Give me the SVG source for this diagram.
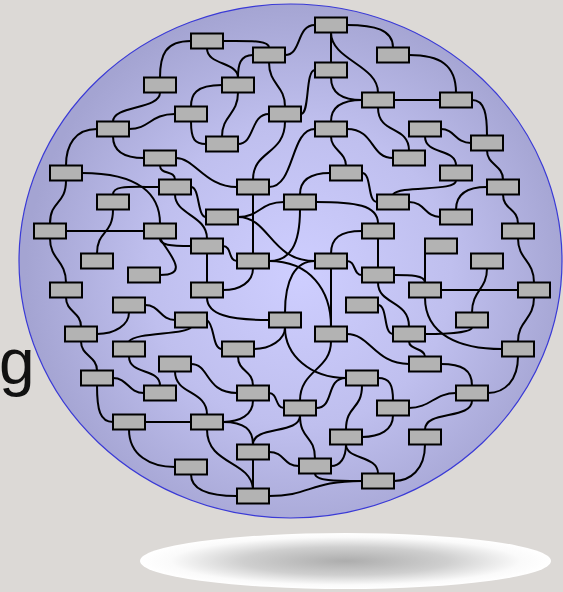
<svg xmlns="http://www.w3.org/2000/svg" width="563" height="592" viewBox="0 0 563 592">
<defs>
<radialGradient id="bg" cx="300" cy="275" r="275" gradientUnits="userSpaceOnUse">
<stop offset="0" stop-color="#ceceff"/><stop offset="0.55" stop-color="#bfbfee"/><stop offset="1" stop-color="#a4a4d2"/>
</radialGradient>
<radialGradient id="sh" cx="0.5" cy="0.5" r="0.5">
<stop offset="0" stop-color="#adadad"/><stop offset="0.5" stop-color="#cfcfcf"/><stop offset="0.85" stop-color="#fafafa"/><stop offset="1" stop-color="#ffffff"/>
</radialGradient>
<style>
.n rect{fill:#b3b3b3;stroke:#000;stroke-width:2}
#edges path{fill:none;stroke:#000;stroke-width:2}
</style>
</defs>
<rect x="0" y="0" width="563" height="592" fill="#dcd9d6"/>
<ellipse cx="345.5" cy="561" rx="205.5" ry="28" fill="url(#sh)"/>
<ellipse cx="290.5" cy="261" rx="271.5" ry="257" fill="url(#bg)" stroke="#3a3ad6" stroke-width="1.2"/>
<text x="-1" y="384" font-family="Liberation Sans, Arial, sans-serif" font-size="64" fill="#111">g</text>
<g id="edges">
<path d="M331,32.5 L331,62.5"/>
<path d="M331,32.5 C331,60 378,65 378,92.5"/>
<path d="M347,25 C375,25 393,30 393,47.5"/>
<path d="M285,55 C302,55 296,25 315,25"/>
<path d="M223,41 C250,41 269,40 269,47.5"/>
<path d="M191,41 C165,41 160,55 160,77.5"/>
<path d="M207,48.5 C207,65 238,62 238,77.5"/>
<path d="M253,55 C240,55 238,65 238,77.5"/>
<path d="M269,62.5 C269,85 285,85 285,106.5"/>
<path d="M222,85 C195,85 191,95 191,106.5"/>
<path d="M238,92.5 C238,115 222,115 222,136.5"/>
<path d="M191,121.5 C191,140 195,144 206,144"/>
<path d="M269,114 C250,114 255,144 238,144"/>
<path d="M301,114 C310,114 305,70 315,70"/>
<path d="M285,121.5 C285,155 253,150 253,179.5"/>
<path d="M315,129 C290,129 295,187 269,187"/>
<path d="M331,77.5 C331,95 345,100 362,100"/>
<path d="M362,100 C345,100 331,105 331,121.5"/>
<path d="M394,100 L440,100"/>
<path d="M378,107.5 C378,135 409,125 409,150.5"/>
<path d="M409,55 C440,55 456,65 456,92.5"/>
<path d="M472,100 C485,100 487,115 487,135.5"/>
<path d="M441,129 C455,129 455,143 471,143"/>
<path d="M425,136.5 C425,155 456,148 456,165.5"/>
<path d="M487,150.5 C487,165 503,165 503,179.5"/>
<path d="M456,180.5 C456,192 400,185 393,194.5"/>
<path d="M487,187 C465,187 456,195 456,209.5"/>
<path d="M503,194.5 C503,210 518,208 518,223.5"/>
<path d="M347,129 C375,129 370,158 393,158"/>
<path d="M331,136.5 C331,150 346,152 346,165.5"/>
<path d="M330,173 C310,173 300,180 300,194.5"/>
<path d="M362,173 C372,173 367,202 377,202"/>
<path d="M160,92.5 C160,110 113,105 113,121.5"/>
<path d="M129,129 C150,129 150,114 175,114"/>
<path d="M97,129 C75,129 66,145 66,165.5"/>
<path d="M113,136.5 C113,152 125,158 144,158"/>
<path d="M176,158 C195,158 205,187 237,187"/>
<path d="M160,165.5 C160,175 175,170 175,179.5"/>
<path d="M82,173 C140,173 160,195 160,223.5"/>
<path d="M66,180.5 C66,205 50,200 50,223.5"/>
<path d="M159,187 C130,187 113,185 113,194.5"/>
<path d="M191,187 C200,187 197,217 206,217"/>
<path d="M175,194.5 C175,215 207,215 207,238.5"/>
<path d="M66,231 L144,231"/>
<path d="M113,209.5 C113,235 97,230 97,253.5"/>
<path d="M160,238.5 C160,245 170,246 191,246"/>
<path d="M160,238.5 C170,255 190,275 160,275"/>
<path d="M50,238.5 C50,260 66,260 66,282.5"/>
<path d="M66,297.5 C66,312 81,312 81,326.5"/>
<path d="M129,312.5 C129,325 115,334 97,334"/>
<path d="M145,305 C160,305 160,320 175,320"/>
<path d="M81,341.5 C81,356 97,356 97,370.5"/>
<path d="M191,327.5 C185,335 135,332 129,341.5"/>
<path d="M129,356.5 C129,375 160,368 160,385.5"/>
<path d="M113,378 C128,378 128,393 144,393"/>
<path d="M97,385.5 C97,410 100,422 113,422"/>
<path d="M145,422 L191,422"/>
<path d="M129,429.5 C129,455 150,467 175,467"/>
<path d="M191,364 C210,364 205,393 237,393"/>
<path d="M175,371.5 C175,395 207,390 207,414.5"/>
<path d="M253,400.5 C253,415 240,422 223,422"/>
<path d="M223,422 C245,422 253,430 253,444.5"/>
<path d="M207,429.5 C207,465 250,460 253,488.5"/>
<path d="M191,474.5 C191,490 210,496 237,496"/>
<path d="M253,459.5 L253,488.5"/>
<path d="M300,415.5 C300,435 253,425 253,444.5"/>
<path d="M269,452 C285,452 283,466 299,466"/>
<path d="M269,393 C278,393 275,408 284,408"/>
<path d="M238,356.5 C238,372 253,370 253,385.5"/>
<path d="M285,327.5 C285,355 310,378 346,378"/>
<path d="M331,341.5 C331,370 300,370 300,400.5"/>
<path d="M207,297.5 C207,315 230,320 269,320"/>
<path d="M315,261 C295,261 285,280 285,312.5"/>
<path d="M331,268.5 L331,326.5"/>
<path d="M269,261 C310,261 331,290 331,326.5"/>
<path d="M347,334 C370,334 375,364 409,364"/>
<path d="M441,364 C462,364 472,370 472,385.5"/>
<path d="M409,341.5 C409,350 425,348 425,356.5"/>
<path d="M518,356.5 C518,380 505,393 488,393"/>
<path d="M456,393 C435,393 430,408 409,408"/>
<path d="M472,400.5 C472,420 425,410 425,429.5"/>
<path d="M425,444.5 C425,470 410,481 394,481"/>
<path d="M378,378 C390,378 393,385 393,400.5"/>
<path d="M393,415.5 C393,430 380,437 362,437"/>
<path d="M362,385.5 C362,410 346,405 346,429.5"/>
<path d="M316,408 C335,408 325,378 346,378"/>
<path d="M346,444.5 C346,458 340,466 331,466"/>
<path d="M346,444.5 C346,460 378,455 378,473.5"/>
<path d="M315,473.5 C315,481 335,481 362,481"/>
<path d="M300,415.5 C300,440 315,435 315,458.5"/>
<path d="M269,496 C310,496 310,481 362,481"/>
<path d="M409,202 C425,202 425,217 440,217"/>
<path d="M378,238.5 L378,267.5"/>
<path d="M518,238.5 C518,260 534,260 534,282.5"/>
<path d="M425,250 L425,282.5"/>
<path d="M394,275 C410,275 425,275 425,282.5"/>
<path d="M441,290 L518,290"/>
<path d="M487,268.5 C487,290 472,290 472,312.5"/>
<path d="M425,297.5 C425,335 460,349 502,349"/>
<path d="M534,297.5 C534,320 518,320 518,341.5"/>
<path d="M472,327.5 C472,332 450,334 425,334"/>
<path d="M378,282.5 C378,305 409,300 409,326.5"/>
<path d="M378,305 C388,305 383,334 393,334"/>
<path d="M238,217 C260,217 260,202 284,202"/>
<path d="M238,217 C270,217 270,261 315,261"/>
<path d="M253,194.5 L253,253.5"/>
<path d="M300,209.5 C300,245 290,261 269,261"/>
<path d="M362,231 C340,231 331,238 331,253.5"/>
<path d="M347,261 C356,261 353,275 362,275"/>
<path d="M223,246 C232,246 228,261 237,261"/>
<path d="M207,253.5 L207,282.5"/>
<path d="M253,268.5 C253,282 240,290 223,290"/>
<path d="M207,320 C215,325 212,349 222,349"/>
<path d="M285,327.5 C285,340 270,349 254,349"/>
<path d="M316,202 C355,202 378,205 378,223.5"/>
</g>
<g id="n1" class="n"><rect x="315" y="17.5" width="32" height="15"/></g>
<g id="n2" class="n"><rect x="191" y="33.5" width="32" height="15"/></g>
<g id="n3" class="n"><rect x="253" y="47.5" width="32" height="15"/></g>
<g id="n4" class="n"><rect x="377" y="47.5" width="32" height="15"/></g>
<g id="n5" class="n"><rect x="315" y="62.5" width="32" height="15"/></g>
<g id="n6" class="n"><rect x="144" y="77.5" width="32" height="15"/></g>
<g id="n7" class="n"><rect x="222" y="77.5" width="32" height="15"/></g>
<g id="n8" class="n"><rect x="362" y="92.5" width="32" height="15"/></g>
<g id="n9" class="n"><rect x="440" y="92.5" width="32" height="15"/></g>
<g id="n10" class="n"><rect x="97" y="121.5" width="32" height="15"/></g>
<g id="n11" class="n"><rect x="175" y="106.5" width="32" height="15"/></g>
<g id="n12" class="n"><rect x="269" y="106.5" width="32" height="15"/></g>
<g id="n13" class="n"><rect x="315" y="121.5" width="32" height="15"/></g>
<g id="n14" class="n"><rect x="409" y="121.5" width="32" height="15"/></g>
<g id="n15" class="n"><rect x="206" y="136.5" width="32" height="15"/></g>
<g id="n16" class="n"><rect x="471" y="135.5" width="32" height="15"/></g>
<g id="n17" class="n"><rect x="144" y="150.5" width="32" height="15"/></g>
<g id="n18" class="n"><rect x="393" y="150.5" width="32" height="15"/></g>
<g id="n19" class="n"><rect x="50" y="165.5" width="32" height="15"/></g>
<g id="n20" class="n"><rect x="330" y="165.5" width="32" height="15"/></g>
<g id="n21" class="n"><rect x="440" y="165.5" width="32" height="15"/></g>
<g id="n22" class="n"><rect x="159" y="179.5" width="32" height="15"/></g>
<g id="n23" class="n"><rect x="237" y="179.5" width="32" height="15"/></g>
<g id="n24" class="n"><rect x="487" y="179.5" width="32" height="15"/></g>
<g id="n25" class="n"><rect x="97" y="194.5" width="32" height="15"/></g>
<g id="n26" class="n"><rect x="284" y="194.5" width="32" height="15"/></g>
<g id="n27" class="n"><rect x="377" y="194.5" width="32" height="15"/></g>
<g id="n28" class="n"><rect x="206" y="209.5" width="32" height="15"/></g>
<g id="n29" class="n"><rect x="440" y="209.5" width="32" height="15"/></g>
<g id="n30" class="n"><rect x="34" y="223.5" width="32" height="15"/></g>
<g id="n31" class="n"><rect x="144" y="223.5" width="32" height="15"/></g>
<g id="n32" class="n"><rect x="362" y="223.5" width="32" height="15"/></g>
<g id="n33" class="n"><rect x="502" y="223.5" width="32" height="15"/></g>
<g id="n34" class="n"><rect x="191" y="238.5" width="32" height="15"/></g>
<g id="n35" class="n"><rect x="425" y="238.5" width="32" height="15"/></g>
<g id="n36" class="n"><rect x="81" y="253.5" width="32" height="15"/></g>
<g id="n37" class="n"><rect x="237" y="253.5" width="32" height="15"/></g>
<g id="n38" class="n"><rect x="315" y="253.5" width="32" height="15"/></g>
<g id="n39" class="n"><rect x="471" y="253.5" width="32" height="15"/></g>
<g id="n40" class="n"><rect x="128" y="267.5" width="32" height="15"/></g>
<g id="n41" class="n"><rect x="362" y="267.5" width="32" height="15"/></g>
<g id="n42" class="n"><rect x="50" y="282.5" width="32" height="15"/></g>
<g id="n43" class="n"><rect x="191" y="282.5" width="32" height="15"/></g>
<g id="n44" class="n"><rect x="409" y="282.5" width="32" height="15"/></g>
<g id="n45" class="n"><rect x="518" y="282.5" width="32" height="15"/></g>
<g id="n46" class="n"><rect x="113" y="297.5" width="32" height="15"/></g>
<g id="n47" class="n"><rect x="346" y="297.5" width="32" height="15"/></g>
<g id="n48" class="n"><rect x="175" y="312.5" width="32" height="15"/></g>
<g id="n49" class="n"><rect x="269" y="312.5" width="32" height="15"/></g>
<g id="n50" class="n"><rect x="456" y="312.5" width="32" height="15"/></g>
<g id="n51" class="n"><rect x="65" y="326.5" width="32" height="15"/></g>
<g id="n52" class="n"><rect x="315" y="326.5" width="32" height="15"/></g>
<g id="n53" class="n"><rect x="393" y="326.5" width="32" height="15"/></g>
<g id="n54" class="n"><rect x="113" y="341.5" width="32" height="15"/></g>
<g id="n55" class="n"><rect x="222" y="341.5" width="32" height="15"/></g>
<g id="n56" class="n"><rect x="502" y="341.5" width="32" height="15"/></g>
<g id="n57" class="n"><rect x="159" y="356.5" width="32" height="15"/></g>
<g id="n74" class="n"><rect x="409" y="356.5" width="32" height="15"/></g>
<g id="n58" class="n"><rect x="81" y="370.5" width="32" height="15"/></g>
<g id="n59" class="n"><rect x="346" y="370.5" width="32" height="15"/></g>
<g id="n60" class="n"><rect x="144" y="385.5" width="32" height="15"/></g>
<g id="n61" class="n"><rect x="237" y="385.5" width="32" height="15"/></g>
<g id="n62" class="n"><rect x="456" y="385.5" width="32" height="15"/></g>
<g id="n63" class="n"><rect x="284" y="400.5" width="32" height="15"/></g>
<g id="n64" class="n"><rect x="377" y="400.5" width="32" height="15"/></g>
<g id="n65" class="n"><rect x="113" y="414.5" width="32" height="15"/></g>
<g id="n66" class="n"><rect x="191" y="414.5" width="32" height="15"/></g>
<g id="n67" class="n"><rect x="330" y="429.5" width="32" height="15"/></g>
<g id="n68" class="n"><rect x="409" y="429.5" width="32" height="15"/></g>
<g id="n69" class="n"><rect x="237" y="444.5" width="32" height="15"/></g>
<g id="n70" class="n"><rect x="175" y="459.5" width="32" height="15"/></g>
<g id="n71" class="n"><rect x="299" y="458.5" width="32" height="15"/></g>
<g id="n72" class="n"><rect x="362" y="473.5" width="32" height="15"/></g>
<g id="n73" class="n"><rect x="237" y="488.5" width="32" height="15"/></g>
</svg>
